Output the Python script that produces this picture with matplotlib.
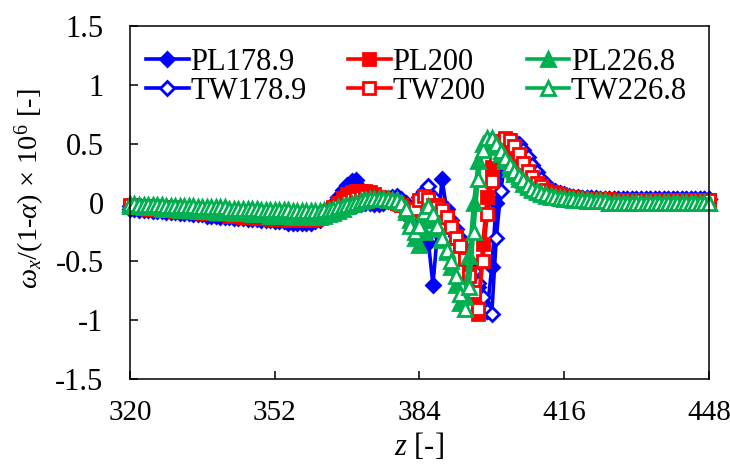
import numpy as np
import matplotlib
matplotlib.use("Agg")
import matplotlib.pyplot as plt

# axial position z [-], one sample per cell
z = np.arange(320, 449)

pl_178_9 = [
    -0.05, -0.05, -0.06, -0.06, -0.06, -0.07, -0.07, -0.07, -0.08, -0.08,
    -0.08, -0.09, -0.09, -0.09, -0.10, -0.10, -0.10, -0.11, -0.11, -0.11,
    -0.12, -0.12, -0.12, -0.13, -0.13, -0.13, -0.14, -0.14, -0.14, -0.15,
    -0.15, -0.15, -0.16, -0.16, -0.16, -0.17, -0.17, -0.17, -0.17, -0.17,
    -0.17, -0.16, -0.15, -0.12, -0.07, -0.01, 0.05, 0.11, 0.15, 0.18,
    0.19, 0.12, 0.04, 0.00, -0.01, -0.01, 0.00, 0.01, 0.01, 0.00,
    -0.02, -0.05, -0.08, -0.12, -0.18, -0.30, -0.34, -0.70, -0.25, 0.20,
    -0.05, -0.15, -0.22, -0.30, -0.40, -0.50, -0.60, -0.72, -0.85, -0.92,
    -0.55, 0.00, 0.30, 0.45, 0.50, 0.50, 0.47, 0.41, 0.35, 0.28,
    0.22, 0.17, 0.13, 0.10, 0.08, 0.07, 0.06, 0.05, 0.05, 0.04,
    0.04, 0.04, 0.04, 0.03, 0.03, 0.03, 0.03, 0.03, 0.03, 0.03,
    0.03, 0.03, 0.03, 0.03, 0.03, 0.03, 0.03, 0.03, 0.03, 0.03,
    0.03, 0.03, 0.03, 0.03, 0.03, 0.03, 0.03, 0.03, 0.03,
]
tw_178_9 = [
    -0.03, -0.03, -0.04, -0.04, -0.04, -0.05, -0.05, -0.05, -0.05, -0.06,
    -0.06, -0.06, -0.06, -0.07, -0.07, -0.07, -0.07, -0.08, -0.08, -0.08,
    -0.08, -0.09, -0.09, -0.09, -0.09, -0.10, -0.10, -0.10, -0.10, -0.11,
    -0.11, -0.11, -0.11, -0.12, -0.12, -0.12, -0.12, -0.12, -0.13, -0.13,
    -0.13, -0.13, -0.12, -0.11, -0.10, -0.09, -0.07, -0.06, -0.04, -0.03,
    -0.02, -0.01, 0.00, 0.01, 0.01, 0.02, 0.03, 0.04, 0.05, 0.06,
    0.03, 0.00, -0.05, -0.02, 0.05, 0.10, 0.14, 0.05, -0.08, -0.10,
    -0.15, -0.22, -0.28, -0.35, -0.42, -0.50, -0.58, -0.68, -0.80, -0.92,
    -0.95, -0.30, 0.10, 0.38, 0.50, 0.52, 0.50, 0.45, 0.39, 0.32,
    0.26, 0.20, 0.16, 0.12, 0.10, 0.08, 0.07, 0.06, 0.05, 0.05,
    0.04, 0.04, 0.04, 0.04, 0.03, 0.03, 0.03, 0.03, 0.03, 0.03,
    0.03, 0.03, 0.03, 0.03, 0.03, 0.03, 0.03, 0.03, 0.03, 0.03,
    0.03, 0.03, 0.03, 0.03, 0.03, 0.03, 0.03, 0.03, 0.03,
]
pl_200 = [
    -0.03, -0.04, -0.04, -0.04, -0.05, -0.05, -0.05, -0.06, -0.06, -0.06,
    -0.07, -0.07, -0.07, -0.08, -0.08, -0.08, -0.09, -0.09, -0.09, -0.10,
    -0.10, -0.10, -0.11, -0.11, -0.11, -0.12, -0.12, -0.12, -0.13, -0.13,
    -0.13, -0.14, -0.14, -0.14, -0.14, -0.15, -0.15, -0.15, -0.15, -0.15,
    -0.15, -0.14, -0.13, -0.11, -0.08, -0.04, 0.00, 0.04, 0.07, 0.09,
    0.10, 0.10, 0.10, 0.09, 0.07, 0.05, 0.03, 0.02, 0.01, 0.00,
    -0.02, -0.05, -0.08, -0.06, 0.00, 0.05, 0.02, -0.05, -0.02, -0.06,
    -0.12, -0.20, -0.28, -0.36, -0.46, -0.60, -0.80, -0.95, -0.35, 0.05,
    0.30, 0.45, 0.52, 0.53, 0.50, 0.44, 0.37, 0.30, 0.24, 0.19,
    0.15, 0.12, 0.10, 0.08, 0.07, 0.06, 0.05, 0.05, 0.04, 0.04,
    0.03, 0.03, 0.03, 0.03, 0.03, 0.03, 0.02, 0.02, 0.02, 0.02,
    0.02, 0.02, 0.02, 0.02, 0.02, 0.02, 0.02, 0.02, 0.02, 0.02,
    0.02, 0.02, 0.02, 0.02, 0.02, 0.02, 0.02, 0.02, 0.02,
]
tw_200 = [
    -0.02, -0.02, -0.03, -0.03, -0.03, -0.03, -0.04, -0.04, -0.04, -0.04,
    -0.05, -0.05, -0.05, -0.05, -0.06, -0.06, -0.06, -0.06, -0.07, -0.07,
    -0.07, -0.07, -0.08, -0.08, -0.08, -0.08, -0.09, -0.09, -0.09, -0.09,
    -0.10, -0.10, -0.10, -0.10, -0.10, -0.11, -0.11, -0.11, -0.11, -0.11,
    -0.11, -0.10, -0.10, -0.09, -0.07, -0.05, -0.03, -0.01, 0.01, 0.03,
    0.04, 0.05, 0.06, 0.06, 0.05, 0.04, 0.03, 0.02, 0.01, 0.00,
    -0.02, -0.06, -0.10, -0.05, 0.02, 0.06, 0.03, -0.02, -0.04, -0.06,
    -0.12, -0.21, -0.30, -0.37, -0.48, -0.62, -0.76, -0.90, -0.50, -0.10,
    0.18, 0.40, 0.52, 0.55, 0.53, 0.48, 0.41, 0.34, 0.27, 0.22,
    0.17, 0.14, 0.11, 0.09, 0.08, 0.07, 0.06, 0.05, 0.05, 0.04,
    0.04, 0.03, 0.03, 0.03, 0.03, 0.03, 0.03, 0.02, 0.02, 0.02,
    0.02, 0.02, 0.02, 0.02, 0.02, 0.02, 0.02, 0.02, 0.02, 0.02,
    0.02, 0.02, 0.02, 0.02, 0.02, 0.02, 0.02, 0.02, 0.02,
]
pl_226_8 = [
    -0.03, -0.03, -0.03, -0.04, -0.04, -0.04, -0.04, -0.05, -0.05, -0.05,
    -0.05, -0.06, -0.06, -0.06, -0.06, -0.07, -0.07, -0.07, -0.07, -0.08,
    -0.08, -0.08, -0.08, -0.09, -0.09, -0.09, -0.09, -0.10, -0.10, -0.10,
    -0.10, -0.11, -0.11, -0.11, -0.11, -0.11, -0.12, -0.12, -0.12, -0.12,
    -0.12, -0.12, -0.12, -0.11, -0.10, -0.09, -0.07, -0.05, -0.03, -0.01,
    0.00, 0.01, 0.02, 0.03, 0.03, 0.03, 0.03, 0.02, 0.02, 0.01,
    0.00, -0.08, -0.15, -0.30, -0.36, -0.25, -0.12, -0.15, -0.22, -0.32,
    -0.42, -0.55, -0.70, -0.85, -0.80, -0.45, 0.00, 0.35, 0.50, 0.53,
    0.52, 0.47, 0.41, 0.35, 0.29, 0.24, 0.20, 0.16, 0.13, 0.11,
    0.09, 0.07, 0.06, 0.05, 0.05, 0.04, 0.03, 0.03, 0.02, 0.02,
    0.02, 0.01, 0.01, 0.01, 0.01, 0.01, 0.00, 0.00, 0.00, 0.00,
    0.00, 0.00, 0.00, 0.00, 0.00, 0.00, 0.00, 0.00, 0.00, 0.00,
    0.00, 0.00, 0.00, 0.00, 0.00, 0.00, 0.00, 0.00, 0.00,
]
tw_226_8 = [
    -0.01, -0.01, -0.02, -0.02, -0.02, -0.02, -0.02, -0.02, -0.03, -0.03,
    -0.03, -0.03, -0.03, -0.03, -0.03, -0.04, -0.04, -0.04, -0.04, -0.04,
    -0.04, -0.04, -0.05, -0.05, -0.05, -0.05, -0.05, -0.05, -0.05, -0.06,
    -0.06, -0.06, -0.06, -0.06, -0.06, -0.06, -0.07, -0.07, -0.07, -0.07,
    -0.07, -0.07, -0.07, -0.06, -0.06, -0.05, -0.04, -0.03, -0.02, -0.01,
    0.00, 0.01, 0.02, 0.03, 0.03, 0.03, 0.03, 0.03, 0.02, 0.02,
    0.00, -0.05, -0.20, -0.25, -0.20, -0.08, -0.03, -0.10, -0.20, -0.30,
    -0.40, -0.50, -0.62, -0.78, -0.90, -0.72, -0.25, 0.20, 0.45, 0.55,
    0.55, 0.50, 0.44, 0.38, 0.32, 0.27, 0.23, 0.19, 0.15, 0.12,
    0.10, 0.08, 0.07, 0.06, 0.05, 0.04, 0.04, 0.03, 0.03, 0.02,
    0.02, 0.02, 0.01, 0.01, 0.01, 0.01, 0.00, 0.00, 0.00, 0.00,
    0.00, 0.00, 0.00, 0.00, 0.00, 0.00, 0.00, 0.00, 0.00, 0.00,
    0.00, 0.00, 0.00, 0.00, 0.00, 0.00, 0.00, 0.00, 0.00,
]

x_ticks = [320, 352, 384, 416, 448]
y_ticks = [-1.5, -1, -0.5, 0, 0.5, 1, 1.5]
y_tick_labels = ["-1.5", "-1", "-0.5", "0", "0.5", "1", "1.5"]

BLUE = "#0000FF"
RED = "#FF0000"
GREEN = "#00B050"

plt.rcParams["font.family"] = ["Liberation Serif", "DejaVu Serif"]
plt.rcParams["mathtext.fontset"] = "custom"
plt.rcParams["mathtext.rm"] = "Liberation Serif"
plt.rcParams["mathtext.it"] = "Liberation Serif:italic"
plt.rcParams["font.size"] = 22

fig = plt.figure(figsize=(7.3, 4.68), dpi=100)
ax = fig.add_axes([0.178, 0.190, 0.793, 0.754])

# (label, values, colour, marker, markersize, filled) in legend column order
series = [
    ("PL178.9", pl_178_9, BLUE, "D", 7, True),
    ("TW178.9", tw_178_9, BLUE, "D", 7, False),
    ("PL200", pl_200, RED, "s", 8, True),
    ("TW200", tw_200, RED, "s", 8, False),
    ("PL226.8", pl_226_8, GREEN, "^", 10.5, True),
    ("TW226.8", tw_226_8, GREEN, "^", 10.5, False),
]

for label, vals, col, mk, ms, filled in series:
    ax.plot(z, vals, color=col, lw=2.6, marker=mk, markersize=ms,
            markeredgewidth=2.0, markeredgecolor=col,
            markerfacecolor=col if filled else "white",
            label=label, clip_on=False)

ax.set_xlim(320, 448)
ax.set_ylim(-1.5, 1.5)
ax.set_xticks(x_ticks)
ax.set_yticks(y_ticks)
ax.set_yticklabels(y_tick_labels)
ax.tick_params(direction="in", length=6, width=1.1, top=False, right=False)
ax.tick_params(axis="x", pad=15, labelsize=21)
ax.tick_params(axis="y", pad=19)
for sp in ax.spines.values():
    sp.set_linewidth(1.1)

ax.set_xlabel(r"$z$ [-]", labelpad=4)
ax.set_ylabel(r"$\omega_x$/(1-$\alpha$) × 10$^6$ [-]", fontsize=20.5)
ax.yaxis.set_label_coords(-0.143, 0.54)

ax.legend(loc="upper center", bbox_to_anchor=(0.495, 1.0), ncol=3,
          frameon=False, handlelength=1.4, handletextpad=0.05,
          columnspacing=1.35, labelspacing=0.0, borderpad=0.2)

fig.savefig("out.png", dpi=100)
